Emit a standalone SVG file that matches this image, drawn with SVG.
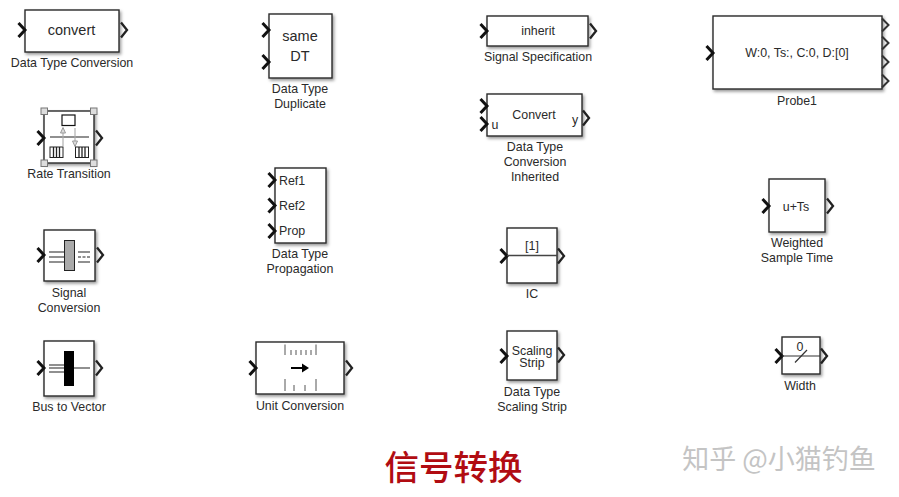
<svg xmlns="http://www.w3.org/2000/svg" width="899" height="497" viewBox="0 0 899 497">
<style>
text{font-family:"Liberation Sans",Arial,sans-serif;fill:#2a2a2a;text-anchor:middle}
.b{fill:#fff;stroke:#2a2a2a;stroke-width:1.4;filter:url(#s)}
.l{font-size:12.4px}
.t{font-size:12.4px}
.ln{stroke:#222;stroke-width:1.2;fill:none}
.g{stroke:#aaa;stroke-width:1.1;fill:none}
.h{fill:#ddd;stroke:#777;stroke-width:1}
</style>
<defs>
<filter id="s" x="-15%" y="-15%" width="135%" height="135%"><feDropShadow dx="1.5" dy="2" stdDeviation="1.5" flood-color="#000" flood-opacity=".4"/></filter>
<polyline id="i" points="-6.500,-7 0,0 -6.500,7" fill="none" stroke="#111" stroke-width="3"/>
<polyline id="o" points="1,-7.500 7,0 1,7.500" fill="none" stroke="#222" stroke-width="2.300"/>
<polyline id="p" points="0,-6.500 6.500,0 0,6.500" fill="none" stroke="#333" stroke-width="2"/>
<g id="q"><rect x="0" y="0" width="13" height="10.500" fill="#fff" stroke="#222"/><path d="M3.500 0V10.500M6.500 0V10.500M9.500 0V10.500" stroke="#222" stroke-width="1.300"/></g>
</defs>
<rect width="899" height="497" fill="#fff"/>
<g id="connectors"/>

<g id="data-type-conversion"><rect class="b" x="25" y="10" width="94" height="42"/><use href="#i" x="25" y="30"/><use href="#o" x="120" y="30"/><text x="71.500" y="35" font-size="14.500">convert</text><text class="l" x="72" y="67">Data Type Conversion</text></g>

<g id="rate-transition"><rect class="b" x="44" y="111" width="50" height="52"/><use href="#i" x="44" y="138"/><use href="#o" x="95" y="138"/>
<rect x="62" y="115" width="13" height="10.500" fill="#fff" stroke="#111" stroke-width="1.200"/><line class="ln" x1="50" y1="137" x2="89" y2="137"/>
<path class="g" d="M63 146V130M75 128V144"/><path d="M60.500 133L63 127.500L65.500 133Z" fill="#ddd" stroke="#999"/><path d="M72.500 141L75 146.500L77.500 141Z" fill="#ddd" stroke="#999"/>
<use href="#q" x="50" y="147"/><use href="#q" x="75.500" y="147"/>
<rect class="h" x="41" y="108" width="6.500" height="6.500"/><rect class="h" x="90.500" y="108" width="6.500" height="6.500"/><rect class="h" x="41" y="160" width="6.500" height="6.500"/><rect class="h" x="90.500" y="160" width="6.500" height="6.500"/>
<text class="l" x="69" y="178">Rate Transition</text></g>

<g id="signal-conversion"><rect class="b" x="44" y="230" width="51" height="51"/><use href="#i" x="44" y="255"/><use href="#o" x="96" y="255"/>
<path class="ln" d="M49 252H65M49 257H65M49 262H65M78 252H90M78 262H90"/><path class="ln" d="M78 257H90" stroke-dasharray="3 1.500"/><rect x="64.500" y="240.500" width="10" height="30" fill="#aaa" stroke="#222"/>
<text class="l" x="69" y="297">Signal</text><text class="l" x="69" y="312">Conversion</text></g>

<g id="bus-to-vector"><rect class="b" x="44" y="341" width="50" height="55"/><use href="#i" x="44" y="368"/><use href="#o" x="95" y="368"/>
<path class="ln" d="M49 365H65M49 368H65M49 372H65M74 368H90"/><rect x="64" y="351" width="10" height="35" fill="#000"/>
<text class="l" x="69" y="411">Bus to Vector</text></g>

<g id="data-type-duplicate"><rect class="b" x="269" y="14" width="63" height="64"/><use href="#i" x="269" y="30"/><use href="#i" x="269" y="62"/><text x="300" y="41" font-size="14.500">same</text><text x="300" y="61" font-size="14.500">DT</text><text class="l" x="300" y="93">Data Type</text><text class="l" x="300" y="108">Duplicate</text></g>

<g id="data-type-propagation"><rect class="b" x="275" y="168" width="51" height="75"/><use href="#i" x="275" y="180"/><use href="#i" x="275" y="205.500"/><use href="#i" x="275" y="231"/><text class="t" x="279" y="184.500" style="text-anchor:start">Ref1</text><text class="t" x="279" y="210" style="text-anchor:start">Ref2</text><text class="t" x="279" y="235" style="text-anchor:start">Prop</text><text class="l" x="300" y="258">Data Type</text><text class="l" x="300" y="273">Propagation</text></g>

<g id="unit-conversion"><rect class="b" x="256" y="342" width="88" height="52"/><use href="#i" x="256" y="368"/><use href="#o" x="345" y="368"/>
<path d="M285 344.500V355M291 350V355M296 350V355M301 350V355M306 350V355M311 350V355M316 344.500V355M285 379V391M294 385V391M305 385V391M316 379V391" stroke="#555" stroke-width="1" fill="none"/>
<path d="M291 368H304" stroke="#000" stroke-width="2"/><path d="M302 363.500L309 368L302 372.500Z" fill="#000"/>
<text class="l" x="300" y="410">Unit Conversion</text></g>

<g id="signal-specification"><rect class="b" x="487" y="16" width="101" height="30"/><use href="#i" x="487" y="31"/><use href="#o" x="589" y="31"/><text class="t" x="538" y="35">inherit</text><text class="l" x="538" y="61">Signal Specification</text></g>

<g id="data-type-conversion-inherited"><rect class="b" x="487" y="94" width="95" height="42"/><use href="#i" x="487" y="106"/><use href="#i" x="487" y="124"/><use href="#o" x="582" y="118"/><text class="t" x="534" y="119">Convert</text><text class="t" x="495" y="129">u</text><text class="t" x="575" y="124">y</text><text class="l" x="535" y="151">Data Type</text><text class="l" x="535" y="166">Conversion</text><text class="l" x="535" y="181">Inherited</text></g>

<g id="ic"><rect class="b" x="507" y="228" width="50" height="55"/><use href="#i" x="507" y="256"/><use href="#o" x="557" y="256"/><line x1="507" y1="255.500" x2="557" y2="255.500" stroke="#444" stroke-width="1.300"/><text class="t" x="532" y="250">[1]</text><text class="l" x="532" y="298">IC</text></g>

<g id="data-type-scaling-strip"><rect class="b" x="507" y="331" width="50" height="49"/><use href="#i" x="507" y="356"/><use href="#o" x="557" y="355"/><text class="t" x="532" y="354.500">Scaling</text><text class="t" x="532" y="367">Strip</text><text class="l" x="532" y="396">Data Type</text><text class="l" x="532" y="411">Scaling Strip</text></g>

<g id="probe1"><rect class="b" x="713" y="16" width="169" height="73"/><use href="#i" x="713" y="53"/><use href="#p" x="882" y="25"/><use href="#p" x="882" y="43"/><use href="#p" x="882" y="62"/><use href="#p" x="882" y="81"/><text x="797" y="57" font-size="12.400">W:0, Ts:, C:0, D:[0]</text><text class="l" x="797" y="105">Probe1</text></g>

<g id="weighted-sample-time"><rect class="b" x="769" y="179" width="56" height="53"/><use href="#i" x="769" y="206"/><use href="#o" x="826" y="206"/><text class="t" x="796" y="211">u+Ts</text><text class="l" x="797" y="247">Weighted</text><text class="l" x="797" y="262">Sample Time</text></g>

<g id="width"><rect class="b" x="782" y="337" width="38" height="37"/><use href="#i" x="782" y="356"/><use href="#o" x="820" y="356"/><line x1="782" y1="356" x2="820" y2="356" stroke="#333" stroke-width="1.200"/><line x1="795" y1="362.500" x2="807" y2="350" stroke="#333" stroke-width="1.200"/><text class="t" x="800" y="351">0</text><text class="l" x="800" y="390">Width</text></g>

<text x="453.500" y="480" font-size="34.500" font-weight="500" style="font-family:'Noto Sans CJK SC',sans-serif;fill:#b10c12">信号转换</text>
<text x="779" y="469" font-size="27" style="font-family:'Noto Sans CJK SC',sans-serif;fill:#c4c4c4">知乎 @小猫钓鱼</text>
</svg>
